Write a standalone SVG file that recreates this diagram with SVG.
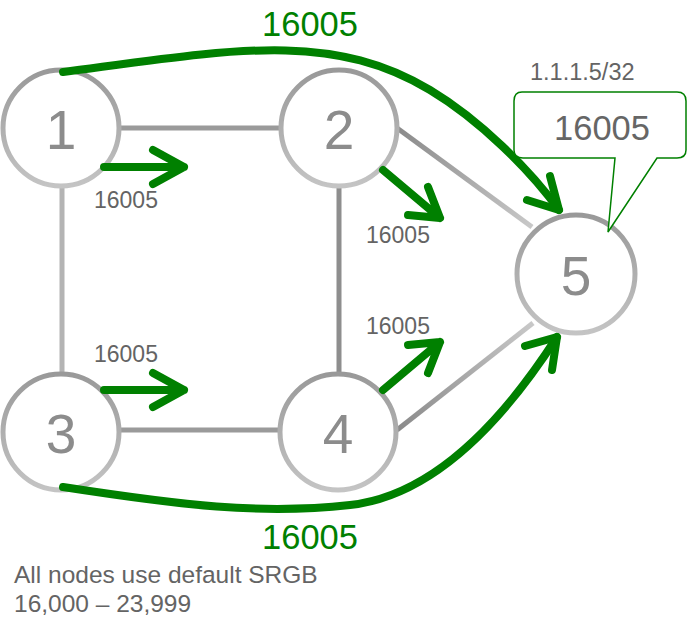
<svg xmlns="http://www.w3.org/2000/svg" width="694" height="635" viewBox="0 0 694 635">
<style>
.node{fill:#fff;stroke:url(#cg);stroke-width:5}
.num{font-family:"Liberation Sans",Arial,sans-serif;font-size:55px;fill:#8c8c8c;text-anchor:middle}
.lnk{stroke-width:5;fill:none}
.g{stroke:#008000;fill:none;stroke-linecap:round;stroke-linejoin:round}
.lbl{font-family:"Liberation Sans",Arial,sans-serif;font-size:23px;fill:#646464}
.big{font-family:"Liberation Sans",Arial,sans-serif;font-size:34.5px;fill:#008000;text-anchor:middle}
.addr{font-family:"Liberation Sans",Arial,sans-serif;font-size:23.5px;fill:#646464}
.cl{font-family:"Liberation Sans",Arial,sans-serif;font-size:34.5px;fill:#666;text-anchor:middle}
.note{font-family:"Liberation Sans",Arial,sans-serif;font-size:24.5px;fill:#646464}
</style>
<defs>
<linearGradient id="cg" x1="0" y1="0" x2="0" y2="1"><stop offset="0" stop-color="#999"/><stop offset="1" stop-color="#c4c4c4"/></linearGradient>
<linearGradient id="dg" gradientUnits="userSpaceOnUse" x1="397" y1="128" x2="532" y2="227"><stop offset="0" stop-color="#8a8a8a"/><stop offset="1" stop-color="#c8c8c8"/></linearGradient>
<linearGradient id="ug" gradientUnits="userSpaceOnUse" x1="397" y1="430" x2="533" y2="323"><stop offset="0" stop-color="#8a8a8a"/><stop offset="1" stop-color="#c8c8c8"/></linearGradient>
</defs>
<g id="links">
<line class="lnk" x1="121" y1="128" x2="279" y2="128" stroke="#9a9a9a"/>
<line class="lnk" x1="121" y1="430" x2="279" y2="430" stroke="#9a9a9a"/>
<line class="lnk" x1="62" y1="188" x2="62" y2="372" stroke="#b4b4b4"/>
<line class="lnk" x1="339" y1="188" x2="339" y2="372" stroke="#8e8e8e"/>
<line class="lnk" x1="397" y1="128" x2="532" y2="227" stroke="url(#dg)"/>
<line class="lnk" x1="397" y1="430" x2="533" y2="323" stroke="url(#ug)"/>
</g>
<g id="n1"><circle class="node" cx="61" cy="128" r="58"/><text class="num" x="61" y="149">1</text></g>
<g id="n2"><circle class="node" cx="339" cy="128" r="58"/><text class="num" x="339" y="149">2</text></g>
<g id="n3"><circle class="node" cx="61" cy="432" r="58"/><text class="num" x="61" y="453">3</text></g>
<g id="n4"><circle class="node" cx="338" cy="432" r="58"/><text class="num" x="338" y="453">4</text></g>
<g id="n5"><circle class="node" cx="576" cy="274" r="59"/><text class="num" x="576" y="295">5</text></g>
<g id="paths">
<path class="g" stroke-width="8" d="M63,72 C230,50 330,30 430,90 C480,120 530,170 559,210"/>
<path class="g" stroke-width="8" d="M527,200 L559,210 L550,176"/>
<path class="g" stroke-width="8" d="M63,487 C180,505 260,515 350,505 C440,495 510,410 557,337"/>
<path class="g" stroke-width="8" d="M525,346 L557,337 L552,370"/>
<path class="g" stroke-width="8" d="M104,167 L184,167 M153,150 L184,167 L153,184" stroke-linecap="butt"/>
<path class="g" stroke-width="8" d="M104,390 L184,390 M153,373 L184,390 L153,407" stroke-linecap="butt"/>
<path class="g" stroke-width="8" d="M383,170 L440,218 M428,187 L440,218 L408,215" stroke-linecap="butt"/>
<path class="g" stroke-width="8" d="M383,390 L440,342 M408,345 L440,342 L428,373" stroke-linecap="butt"/>
</g>
<g id="labels">
<text class="lbl" x="94" y="208">16005</text>
<text class="lbl" x="94" y="362">16005</text>
<text class="lbl" x="366" y="243">16005</text>
<text class="lbl" x="366" y="334">16005</text>
<text class="big" x="310" y="36">16005</text>
<text class="big" x="310" y="549">16005</text>
</g>
<g id="callout">
<path d="M522,92 H677 Q686,92 686,101 V150 Q686,158 677,158 H657 L608,232 L615,158 H523 Q514,158 514,150 V101 Q514,92 522,92 Z" fill="#fff" stroke="#008000" stroke-width="1.5"/>
<text class="addr" x="530" y="80">1.1.1.5/32</text>
<text class="cl" x="602" y="140">16005</text>
</g>
<g id="note">
<text class="note" x="14" y="583">All nodes use default SRGB</text>
<text class="note" x="14" y="612">16,000 – 23,999</text>
</g>
</svg>
